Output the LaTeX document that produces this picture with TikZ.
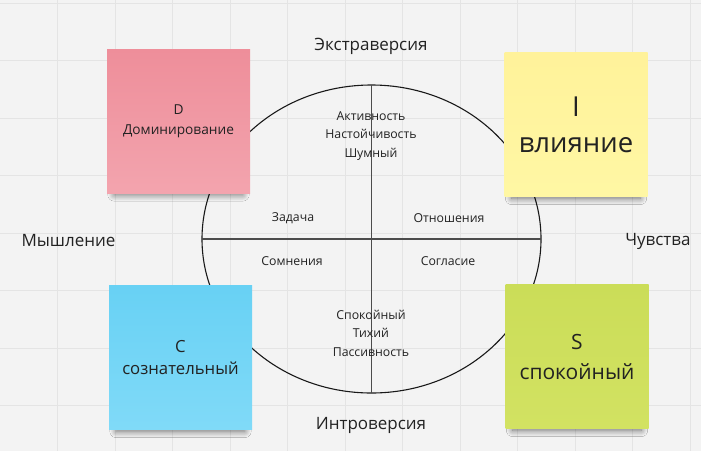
\documentclass[tikz,border=0pt]{standalone}
\usepackage{fontspec}
\setmainfont{Open Sans}
\usetikzlibrary{shadows.blur}
\definecolor{bgc}{HTML}{F3F3F3}
\definecolor{gridc}{HTML}{E4E4E4}
\definecolor{pinkT}{HTML}{EE8E9A}
\definecolor{pinkB}{HTML}{F3A4AE}
\definecolor{yelT}{HTML}{FFF29A}
\definecolor{yelB}{HTML}{FFF7A4}
\definecolor{bluT}{HTML}{68D1F4}
\definecolor{bluB}{HTML}{80DAF8}
\definecolor{grnT}{HTML}{CBDD58}
\definecolor{grnB}{HTML}{D2E262}
\definecolor{txt}{HTML}{222222}
\tikzset{
  gridline/.style={draw=gridc, line width=1pt},
  axis/.style={draw=black!70, line width=1.3pt},
  ring/.style={draw=black!90, line width=1.1pt},
  biglabel/.style={font=\fontsize{17}{20}\selectfont, text=txt},
  smalllabel/.style={font=\fontsize{12.3}{18.5}\selectfont, text=txt, align=center},
  sticky/.style={minimum width=143pt, minimum height=144pt, inner sep=0pt, align=center, text=txt,
    blur shadow={shadow xshift=0pt, shadow yshift=-10pt, shadow scale=0.9, shadow opacity=55, shadow blur radius=7pt, shadow blur steps=10}},
}
\begin{document}
\begin{tikzpicture}[x=1pt,y=-1pt]
\useasboundingbox (0,0) rectangle (701,451);
\fill[bgc] (0,0) rectangle (701,451);
\foreach \i in {1,...,12} \draw[gridline] (57.5*\i,0) -- (57.5*\i,451);
\foreach \j in {0,...,7} \draw[gridline] (0,3+57.5*\j) -- (701,3+57.5*\j);

% circle and axes
\draw[ring] (371.5,239) ellipse [x radius=169.5, y radius=154];
\coordinate (top) at (371.5,85);
\coordinate (bot) at (371.5,393);
\coordinate (lft) at (202,239);
\coordinate (rgt) at (541,239);
\draw[axis] (top) -- (bot);
\draw[axis] (lft) -- (rgt);

% outer labels
\node[biglabel] (extra) at (371,46) {Экстраверсия};
\node[biglabel] (intro) at (371,425) {Интроверсия};
\node[biglabel, anchor=west] (think) at (18,241) {Мышление};
\node[biglabel, anchor=east] (feel) at (694,241) {Чувства};

% inner labels
\node[smalllabel] (act) at (371,136) {Активность\\Настойчивость\\Шумный};
\node[smalllabel] (calm) at (371,333) {Спокойный\\Тихий\\Пассивность};
\node[smalllabel] (task) at (293,218) {Задача};
\node[smalllabel] (rel) at (449,218) {Отношения};
\node[smalllabel] (doubt) at (292,261) {Сомнения};
\node[smalllabel] (agree) at (448,261) {Согласие};

% stickies
\node[sticky, top color=pinkT, bottom color=pinkB, font=\fontsize{13.7}{20}\selectfont] (D) at (178.5,121) {D\\Доминирование};
\node[sticky, top color=yelT, bottom color=yelB, font=\fontsize{27.5}{36}\selectfont] (I) at (576,124.5) {I\\влияние};
\node[sticky, top color=bluT, bottom color=bluB, font=\fontsize{16.7}{22}\selectfont] (C) at (180.5,357.5) {C\\сознательный};
\node[sticky, top color=grnT, bottom color=grnB, font=\fontsize{21}{30}\selectfont] (S) at (577,356.5) {S\\спокойный};
\end{tikzpicture}
\end{document}
